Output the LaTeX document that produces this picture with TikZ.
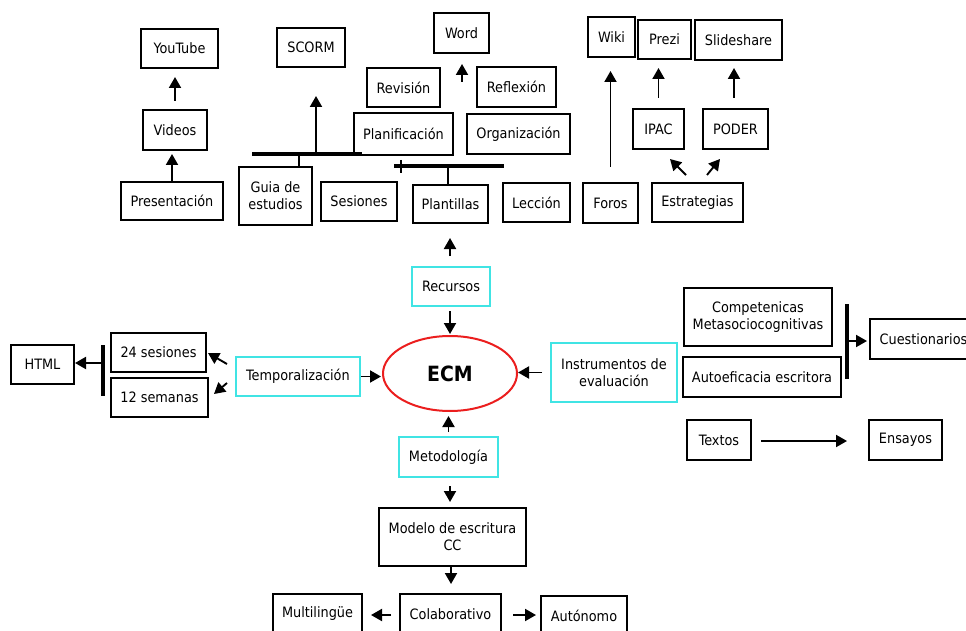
\documentclass[tikz,border=0pt]{standalone}
\usepackage{fontspec}
\setmainfont{DejaVu Sans Condensed}
\usetikzlibrary{arrows.meta,calc,shapes.geometric}
\definecolor{boxcyan}{RGB}{64,228,228}
\definecolor{ecmred}{RGB}{235,30,30}
\tikzset{
  box/.style={draw=black, line width=2pt, inner sep=0pt, align=center,
              font=\fontsize{14.3}{17}\selectfont},
  cbox/.style={box, draw=boxcyan},
  arr/.style={line width=1.9pt, -{Triangle[length=11pt,width=12pt]}},
  bar/.style={line width=3.8pt},
  tick/.style={line width=1.9pt},
}
\begin{document}
\begin{tikzpicture}[x=1pt,y=-1pt]
\useasboundingbox (0,0) rectangle (966,631);
\clip (0,0) rectangle (966,631);

% ---- top left branch
\node[box, minimum width=77pt, minimum height=39pt] (yt) at (179.5,48.5) {YouTube};
\node[box, minimum width=64pt, minimum height=40pt] (vid) at (175,130) {Videos};
\node[box, minimum width=102pt, minimum height=38pt] (pres) at (172,201) {Presentación};
\node[box, minimum width=68pt, minimum height=39pt] (scorm) at (311,47.5) {SCORM};
\node[box, minimum width=73pt, minimum height=58pt] (guia) at (275.5,196) {Guia de\\estudios};
\node[box, minimum width=76pt, minimum height=39pt] (ses) at (359,201.5) {Sesiones};

% ---- writing stages
\node[box, minimum width=99pt, minimum height=42pt] (plan) at (403.5,134) {Planificación};
\node[box, minimum width=73pt, minimum height=39pt] (rev) at (403.5,87.5) {Revisión};
\node[box, minimum width=55pt, minimum height=40pt] (word) at (461.5,33) {Word};
\node[box, minimum width=79pt, minimum height=40pt] (refl) at (516.5,87) {Reflexión};
\node[box, minimum width=103pt, minimum height=40pt] (org) at (518.5,134) {Organización};
\node[box, minimum width=75pt, minimum height=38pt] (plant) at (450.5,204) {Plantillas};
\node[box, minimum width=67pt, minimum height=39pt] (lec) at (536.5,202.5) {Lección};

% ---- top right branch
\node[box, minimum width=47pt, minimum height=40pt] (wiki) at (611.5,37) {Wiki};
\node[box, minimum width=53pt, minimum height=39pt] (prezi) at (664.5,39.5) {Prezi};
\node[box, minimum width=87pt, minimum height=40pt] (slide) at (738.5,40) {Slideshare};
\node[box, minimum width=51pt, minimum height=40pt] (ipac) at (658.5,129) {IPAC};
\node[box, minimum width=65pt, minimum height=40pt] (poder) at (735.5,129) {PODER};
\node[box, minimum width=55pt, minimum height=40pt] (foros) at (610.5,203) {Foros};
\node[box, minimum width=91pt, minimum height=39pt] (estr) at (697.5,202.5) {Estrategias};

% ---- centre
\node[cbox, minimum width=78pt, minimum height=39pt] (rec) at (451,286.5) {Recursos};
\node[ellipse, draw=ecmred, line width=2pt, minimum width=134pt, minimum height=75pt,
      inner sep=0pt, font=\fontsize{21}{21}\selectfont\bfseries] (ecm) at (450,373.5) {ECM};
\node[cbox, minimum width=124pt, minimum height=39pt] (temp) at (298,376.5) {Temporalización};
\node[cbox, minimum width=126pt, minimum height=59pt] (inst) at (614,372.5) {Instrumentos de\\evaluación};
\node[cbox, minimum width=99pt, minimum height=40pt] (met) at (448.5,457) {Metodología};

% ---- left branch
\node[box, minimum width=95pt, minimum height=39pt] (s24) at (158.5,352.5) {24 sesiones};
\node[box, minimum width=97pt, minimum height=39pt] (s12) at (159.5,397.5) {12 semanas};
\node[box, minimum width=63pt, minimum height=39pt] (html) at (42.5,364.5) {HTML};

% ---- right branch
\node[box, minimum width=148pt, minimum height=58pt] (comp) at (758,317) {Competenicas\\Metasociocognitivas};
\node[box, minimum width=158pt, minimum height=40pt] (auto) at (762,377) {Autoeficacia escritora};
\node[box, minimum width=107pt, minimum height=40pt] (cuest) at (923.5,339) {Cuestionarios};
\node[box, minimum width=64pt, minimum height=40pt] (txt) at (719,440) {Textos};
\node[box, minimum width=73pt, minimum height=40pt] (ens) at (905.5,440) {Ensayos};

% ---- bottom branch
\node[box, minimum width=147pt, minimum height=58pt] (mod) at (452.5,537) {Modelo de escritura\\CC};
\node[box, minimum width=101pt, minimum height=40pt] (col) at (450.5,614) {Colaborativo};
\node[box, minimum width=89pt, minimum height=40pt] (mult) at (317.5,614) {Multilingüe};
\node[box, minimum width=86pt, minimum height=40pt] (aut) at (584,616) {Autónomo};

% ---- bars
\coordinate (b1l) at (252,154);
\coordinate (b1r) at (362,154);
\coordinate (b1s) at (316,154);
\coordinate (b1g) at (299,154);
\draw[bar] (b1l) -- (b1r);
\draw[tick] (b1g) -- (b1g |- guia.north);
\draw[arr, shorten <=2pt, shorten >=28pt] (b1s) -- (b1s |- scorm.south);

\coordinate (b2l) at (394,166);
\coordinate (b2r) at (504,166);
\coordinate (b2p) at (448,166);
\draw[bar] (b2l) -- (b2r);
\draw[tick] (401,160) -- (401,173);
\draw[tick] (b2p) -- (b2p |- plant.north);

\coordinate (wa) at (462,82);
\draw[arr] (wa) -- ($(word.south)+(0.5,10)$);

\coordinate (b3t) at (103,345);
\coordinate (b3b) at (103,396);
\coordinate (b3m) at (103,363);
\draw[bar] (b3t) -- (b3b);
\draw[arr] (b3m) -- (b3m -| html.east);

\coordinate (b4t) at (847,304);
\coordinate (b4b) at (847,379);
\coordinate (b4m) at (847,341);
\draw[bar] (b4t) -- (b4b);
\draw[arr, shorten >=2pt] (b4m) -- (b4m -| cuest.west);

% ---- connectors
\draw[arr, shorten <=8pt, shorten >=8pt] (vid.north) -- (vid.north |- yt.south);
\draw[arr, shorten >=3pt] (pres.north) -- (pres.north |- vid.south);
\draw[arr, shorten <=15pt, shorten >=13pt] (foros.north) -- (foros.north |- wiki.south);
\draw[arr, shorten <=10pt, shorten >=8pt] (ipac.north) -- (ipac.north |- prezi.south);
\draw[arr, shorten <=10pt, shorten >=7pt] ($(poder.north)+(-1.5,0)$) -- ($(poder.north |- slide.south)+(-1.5,0)$);
\draw[arr] ($(estr.north)+(-11.5,-7)$) -- ($(ipac.south)+(11.5,9)$);
\draw[arr] ($(estr.north)+(9.5,-7)$) -- ($(poder.south)+(-15.5,9)$);

\draw[arr, shorten <=10pt, shorten >=14pt] ($(rec.north)+(-1,0)$) -- ($(rec.north |- plant.south)+(-1,0)$);
\draw[arr, shorten <=4pt, shorten >=1pt] ($(rec.south)+(-1,0)$) -- (ecm.north);
\draw[arr, shorten >=1pt] (temp.east) -- (temp.east -| ecm.west);
\draw[arr, shorten <=8pt] (inst.west) -- (inst.west -| ecm.east);
\draw[arr, shorten <=4pt, shorten >=4pt] (met.north) -- (met.north |- ecm.south);
\draw[arr, shorten <=8pt, shorten >=5pt] ($(met.south)+(1.5,0)$) -- ($(met.south |- mod.north)+(1.5,0)$);
\draw[arr, shorten >=9pt] ($(mod.south)+(-1.5,0)$) -- ($(mod.south |- col.north)+(-1.5,0)$);
\draw[arr, shorten <=8pt, shorten >=8pt] ($(col.west)+(0,1)$) -- ($(mult.east)+(0,1)$);
\draw[arr, shorten <=11pt, shorten >=4pt] ($(col.east)+(0,1)$) -- ($(col.east -| aut.west)+(0,1)$);

\draw[arr] ($(temp.west)+(-8,-12.5)$) -- ($(s24.east)+(1,0.5)$);
\draw[arr] ($(temp.west)+(-8,6.5)$) -- ($(s12.east)+(5,-3.5)$);

\draw[arr, shorten <=9pt, shorten >=21pt] ($(txt.east)+(0,1)$) -- ($(ens.west)+(0,1)$);

\end{tikzpicture}
\end{document}
